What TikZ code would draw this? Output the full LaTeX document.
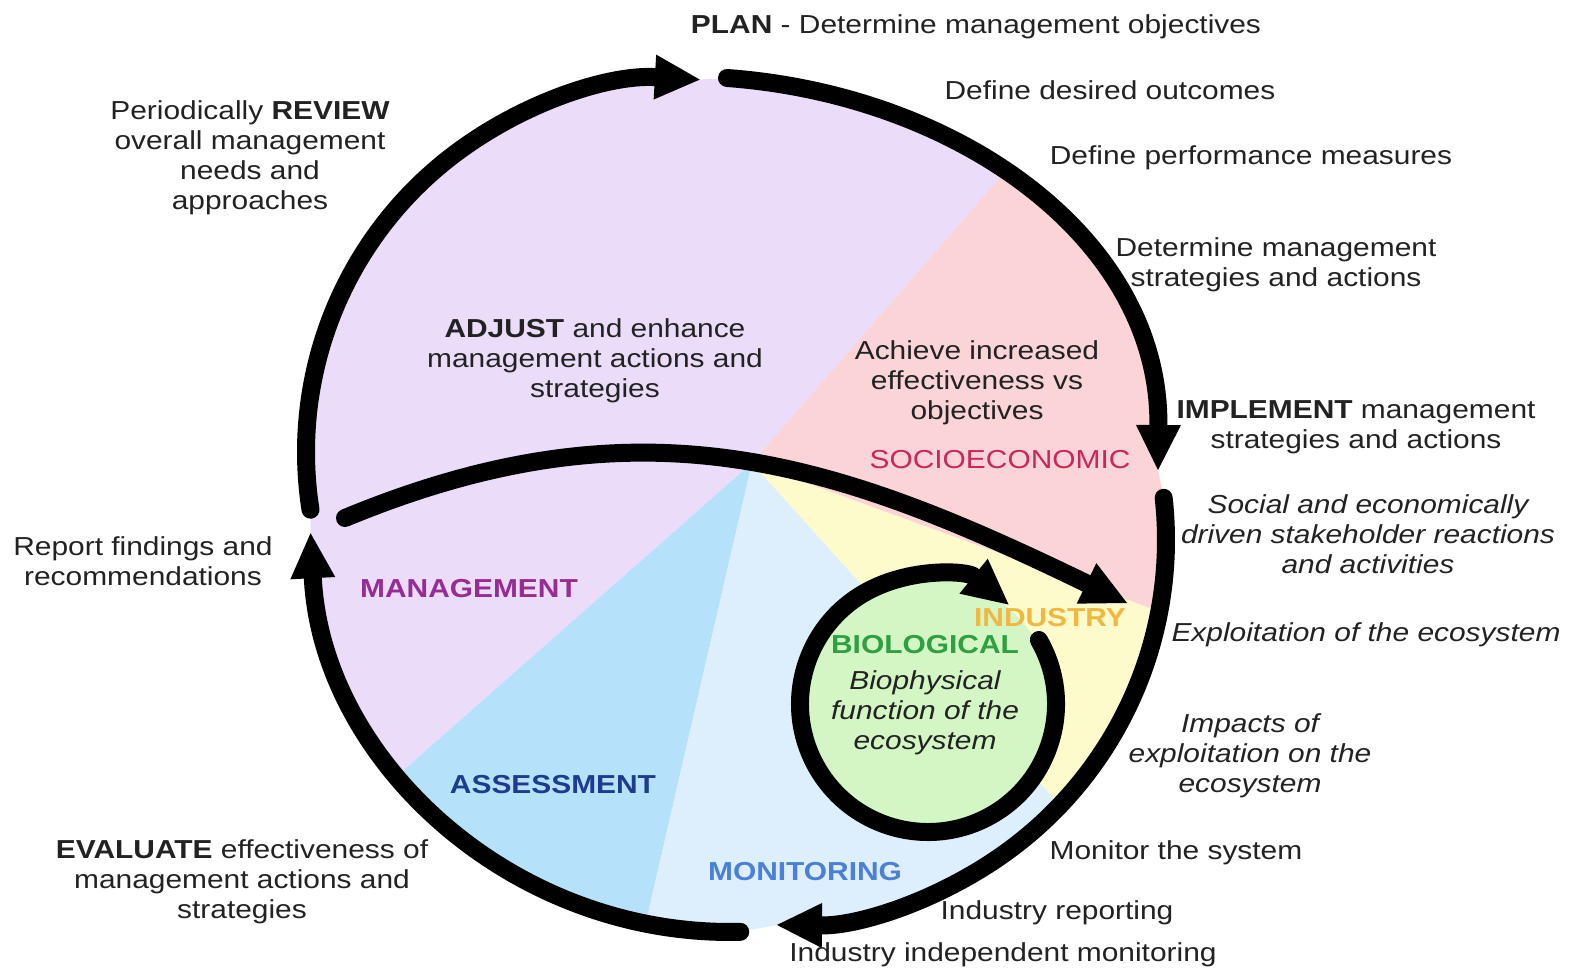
\documentclass[tikz,border=0pt]{standalone}
\usepackage{fontspec}
\setmainfont{Liberation Sans}[FakeStretch=1.15]
\usetikzlibrary{arrows.meta}
\definecolor{mgmt}{HTML}{EBDCFA}
\definecolor{socio}{HTML}{FAD4D6}
\definecolor{indus}{HTML}{FDFACB}
\definecolor{monit}{HTML}{DDEEFC}
\definecolor{assess}{HTML}{B5E2FA}
\definecolor{bio}{HTML}{D4F6C4}
\definecolor{txt}{HTML}{222222}
\definecolor{mgmtT}{HTML}{962D91}
\definecolor{socioT}{HTML}{C8285A}
\definecolor{indusT}{HTML}{F0B840}
\definecolor{bioT}{HTML}{2EA043}
\definecolor{assessT}{HTML}{1E3C8C}
\definecolor{monitT}{HTML}{4A80D8}
\begin{document}
\begin{tikzpicture}[x=0.02cm,y=0.02cm,
  flow/.style={line width=0.36cm, line cap=round, -{Triangle[width=0.9cm,length=0.9cm,line width=0pt]}},
  lbl/.style={align=center, inner sep=0pt, text=txt, font=\fontsize{14.8}{17.07}\selectfont},
  ilbl/.style={lbl, font=\fontsize{14.8}{17.07}\selectfont\itshape},
  seclbl/.style={inner sep=0pt, font=\fontsize{14.8}{17.07}\selectfont\bfseries}]
\useasboundingbox (0,0) rectangle (1575,977);
\coordinate (apex) at (752,514);
\coordinate (cL) at (679,525);
\coordinate (tr0) at (727,899);
\coordinate (tk1) at (960,882);
\coordinate (tk2) at (1160,737);
\coordinate (tr1) at (1158,507);
\coordinate (cLR) at (781,437);
\coordinate (cBL) at (730,465);
\coordinate (cRing) at (928,273);
\coordinate (p0) at (345,459);
\coordinate (p1) at (1127,374);
\coordinate (k1) at (642,582);
\coordinate (k2) at (836,515);
% pie sectors clipped to outer cycle
\begin{scope}
\clip ([shift={(188.9:373)}]cL) arc[start angle=188.9,end angle=86.8,radius=373]
  -- (tr0) .. controls (tk1) and (tk2) .. (tr1)
  -- ([shift={(6.3:385)}]cLR) arc[start angle=6.3,end angle=-90.6,radius=385]
  -- ([shift={(271.4:420)}]cBL) arc[start angle=271.4,end angle=182.9,radius=420] -- cycle;
\fill[mgmt] (apex) -- ++(49:1300) arc[start angle=49,end angle=221.4,radius=1300] -- cycle;
\fill[assess] (apex) -- ++(221.4:1300) arc[start angle=221.4,end angle=257,radius=1300] -- cycle;
\fill[monit] (apex) -- ++(257:1300) arc[start angle=257,end angle=312,radius=1300] -- cycle;
\fill[indus] (apex) -- ++(312:1300) arc[start angle=312,end angle=340,radius=1300] -- cycle;
\fill[socio] (apex) -- ++(340:1300) arc[start angle=340,end angle=409,radius=1300] -- cycle;
\end{scope}
\fill[bio] (cRing) circle[radius=125];
% main cycle arrows
\draw[flow] ([shift={(188.9:373)}]cL) arc[start angle=188.9,end angle=86.8,radius=373];
\draw[flow] (tr0) .. controls (tk1) and (tk2) .. (tr1);
\draw[flow] ([shift={(6.3:385)}]cLR) arc[start angle=6.3,end angle=-90.6,radius=385];
\draw[flow] ([shift={(271.4:420)}]cBL) arc[start angle=271.4,end angle=182.9,radius=420];
\draw[flow] (p0) .. controls (k1) and (k2) .. (p1);
\draw[flow] ([shift={(30:128)}]cRing) arc[start angle=30,end angle=-309,radius=128];
% outside texts
\node[lbl] (plan) at (976,950) {\textbf{PLAN} - Determine management objectives};
\node[lbl] (outc) at (1110,887) {Define desired outcomes};
\node[lbl] (perf) at (1251,819) {Define performance measures};
\node[lbl] (strat) at (1276,712.5) {Determine management\\strategies and actions};
\node[lbl] (impl) at (1356,550) {\textbf{IMPLEMENT} management\\strategies and actions};
\node[ilbl] (social) at (1368,443) {Social and economically\\driven stakeholder reactions\\and activities};
\node[ilbl] (exploit) at (1366,342) {Exploitation of the ecosystem};
\node[ilbl] (impacts) at (1250,221) {Impacts of\\exploitation on the\\ecosystem};
\node[lbl] (monsys) at (1176,124) {Monitor the system};
\node[lbl] (indrep) at (1057,64) {Industry reporting};
\node[lbl] (indmon) at (1003,22) {Industry independent monitoring};
\node[lbl] (review) at (250,819.5) {Periodically \textbf{REVIEW}\\overall management\\needs and\\approaches};
\node[lbl] (report) at (143,416) {Report findings and\\recommendations};
\node[lbl] (evaluate) at (242,95.5) {\textbf{EVALUATE} effectiveness of\\management actions and\\strategies};
% inside texts
\node[lbl] (adjust) at (595,616.5) {\textbf{ADJUST} and enhance\\management actions and\\strategies};
\node[lbl] (achieve) at (977,594.5) {Achieve increased\\effectiveness vs\\objectives};
\node[seclbl,text=socioT,font=\fontsize{14.8}{17.07}\selectfont] (socioL) at (1000,517) {SOCIOECONOMIC};
\node[seclbl,text=mgmtT] (mgmtL) at (469,388) {MANAGEMENT};
\node[seclbl,text=assessT] (assessL) at (553,192) {ASSESSMENT};
\node[seclbl,text=monitT] (monitL) at (805,105) {MONITORING};
\node[seclbl,text=indusT] (indusL) at (1050,359) {INDUSTRY};
\node[seclbl,text=bioT] (bioL) at (925,332) {BIOLOGICAL};
\node[ilbl] (biophys) at (925,264) {Biophysical\\function of the\\ecosystem};
\end{tikzpicture}
\end{document}
